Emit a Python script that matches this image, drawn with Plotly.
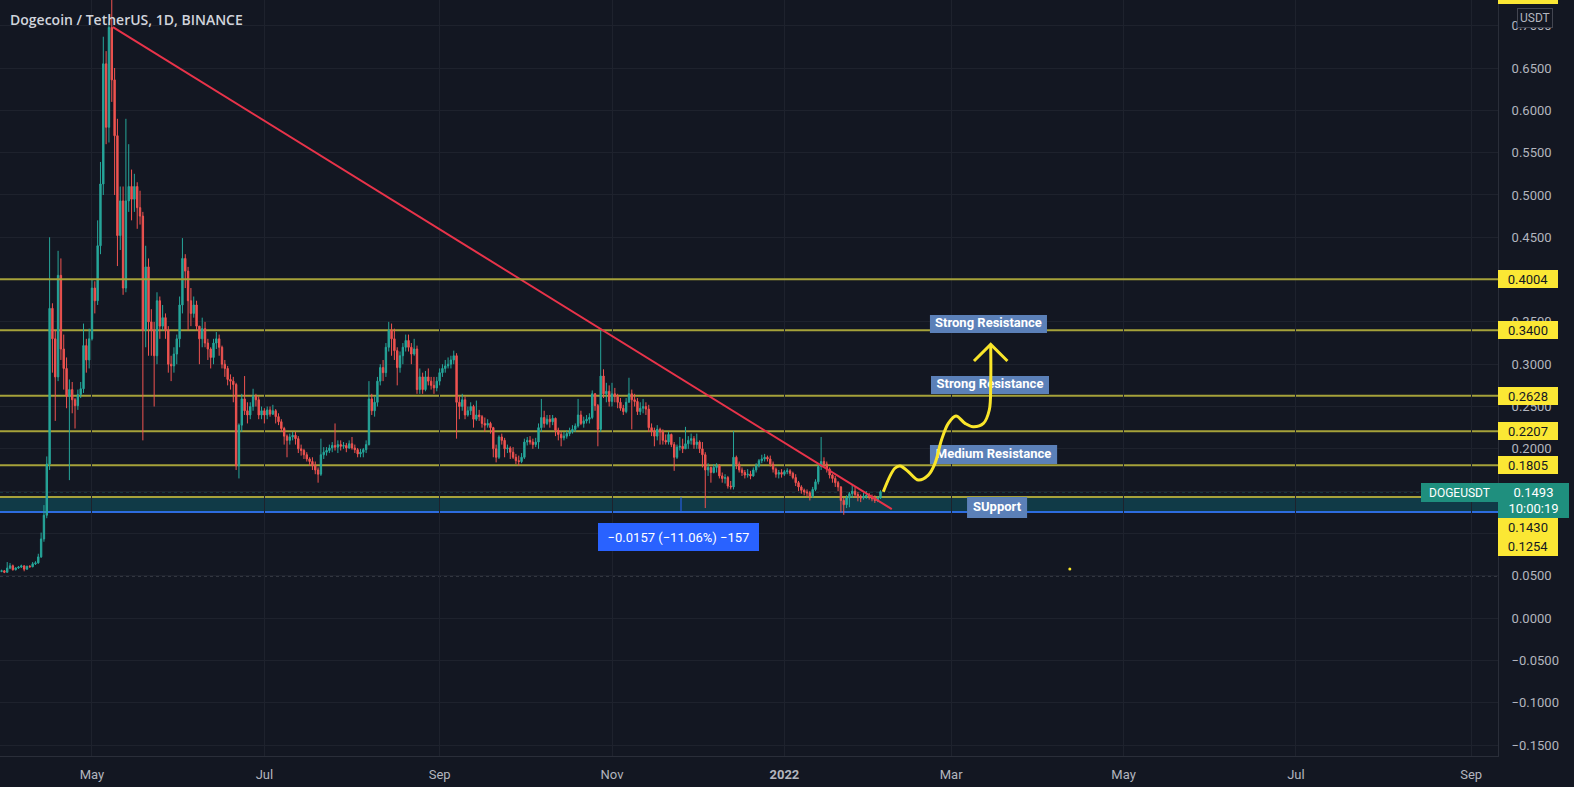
import pandas as pd
import plotly.graph_objects as go

# ---------------- data (DOGE/USDT daily) ----------------
start_date = "2021-03-29"
end_date = "2022-02-04"
first_open = 0.0540

closes = [
    # Mar 29-31
    .0552, .0558, .0541,
    # Apr
    .0590, .0618, .0572, .0592, .0603, .0617, .0578, .0611, .0606, .0641,
    .0652, .0723, .0935, .1215, .1820, .3660, .3300, .2850, .4050, .3180,
    .2950, .2620, .2700, .2580, .2510, .2640, .2710, .3220, .3050, .3300,
    # May
    .3900, .3750, .4400, .5130, .6550, .5800, .6980, .6360, .5700, .4520,
    .4930, .3900, .4930, .5100, .4950, .5100, .4850, .4750, .3400, .4150,
    .3500, .3400, .3100, .3750, .3450, .3550, .3400, .3000, .2980, .3120, .3300,
    # Jun
    .3700, .4250, .4100, .3750, .3600, .3700, .3450, .3300, .3420, .3250,
    .3180, .3080, .3250, .3300, .3200, .3000, .2950, .2820, .2800, .2760,
    .1800, .2280, .2590, .2450, .2400, .2500, .2620, .2580, .2400, .2450,
    # Jul
    .2400, .2460, .2410, .2450, .2380, .2320, .2240, .2150, .2100, .2140,
    .2160, .2120, .2000, .1980, .1930, .1880, .1850, .1800, .1750, .1700,
    .1930, .1960, .1980, .2010, .2040, .2020, .2050, .2030, .2040, .2010, .2060,
    # Aug
    .2010, .1990, .1940, .1960, .1990, .2050, .2590, .2450, .2550, .2800,
    .2960, .2900, .3200, .3400, .3300, .3160, .2960, .3100, .3200, .3280,
    .3200, .3120, .3180, .2700, .2850, .2700, .2850, .2800, .2750, .2720, .2800,
    # Sep
    .2900, .2950, .2980, .3000, .3050, .3100, .2550, .2500, .2580, .2400,
    .2450, .2500, .2350, .2400, .2380, .2300, .2280, .2300, .2250, .2000,
    .1900, .2140, .2100, .2000, .2010, .1960, .1900, .1860, .1850, .1900,
    # Oct
    .2080, .2100, .2080, .2050, .2080, .2250, .2370, .2300, .2350, .2320,
    .2360, .2220, .2170, .2130, .2150, .2180, .2200, .2230, .2270, .2400,
    .2300, .2330, .2350, .2370, .2650, .2510, .2230, .2860, .2650, .2680, .2560,
    # Nov
    .2650, .2620, .2550, .2480, .2440, .2550, .2650, .2580, .2560, .2440,
    .2480, .2500, .2470, .2250, .2210, .2150, .2230, .2200, .2100, .2080,
    .2170, .2050, .1900, .2020, .2030, .2000, .2060, .2100, .2120, .2050,
    # Dec
    .2080, .2000, .1930, .1750, .1780, .1720, .1780, .1800, .1680, .1650,
    .1660, .1560, .1550, .1900, .1820, .1750, .1720, .1690, .1700, .1680,
    .1750, .1800, .1860, .1880, .1900, .1880, .1820, .1760, .1700, .1720, .1700,
    # Jan 2022
    .1730, .1740, .1710, .1660, .1600, .1550, .1510, .1490, .1480, .1440,
    .1520, .1610, .1790, .1850, .1820, .1760, .1690, .1650, .1600, .1550,
    .1390, .1340, .1420, .1470, .1500, .1460, .1430, .1420, .1440, .1450, .1430,
    # Feb 1-4
    .1410, .1390, .1420, .1493,
]

highs = [
    .0565, .0572, .0566,
    .0662, .0650, .0632, .0601, .0616, .0631, .0622, .0620, .0626, .0662,
    .0672, .0760, .1010, .1335, .1910, .4500, .3720, .3400, .4340, .4250,
    .3350, .3080, .2820, .2790, .2600, .2700, .2790, .3480, .3300, .3420,
    .4000, .3980, .4700, .5390, .6870, .6700, .7050, .7376, .6500, .5900,
    .5100, .5100, .5900, .5600, .5300, .5250, .5150, .5050, .4800, .4400,
    .4250, .3650, .3500, .3850, .3800, .3700, .3600, .3450, .3100, .3200, .3350,
    .3800, .4490, .4300, .4150, .3900, .3800, .3750, .3450, .3550, .3500,
    .3300, .3200, .3300, .3380, .3350, .3220, .3050, .2980, .2880, .2850,
    .2780, .2300, .2650, .2860, .2550, .2550, .2710, .2650, .2620, .2500,
    .2480, .2500, .2500, .2520, .2470, .2420, .2350, .2260, .2170, .2180,
    .2200, .2200, .2150, .2050, .2000, .1960, .1900, .1900, .1850, .1780,
    .2120, .2020, .2020, .2050, .2080, .2300, .2100, .2100, .2080, .2070, .2100,
    .2140, .2050, .2010, .2000, .2010, .2100, .2800, .2650, .2620, .2850,
    .3000, .3050, .3250, .3500, .3480, .3420, .3200, .3150, .3250, .3350,
    .3350, .3250, .3300, .3220, .2950, .2900, .2920, .2950, .2850, .2850, .2850,
    .2950, .3000, .3050, .3080, .3100, .3160, .3130, .2620, .2650, .2620,
    .2500, .2550, .2520, .2570, .2460, .2400, .2370, .2350, .2320, .2260,
    .2050, .2160, .2180, .2130, .2050, .2030, .2020, .1940, .1920, .1950,
    .2120, .2140, .2150, .2120, .2130, .2300, .2590, .2450, .2400, .2400,
    .2400, .2370, .2250, .2200, .2200, .2220, .2250, .2280, .2300, .2590,
    .2450, .2380, .2400, .2420, .2690, .2660, .2530, .3400, .2940, .2780, .2750,
    .2780, .2720, .2650, .2600, .2520, .2600, .2840, .2700, .2650, .2600,
    .2550, .2590, .2550, .2520, .2300, .2250, .2280, .2250, .2230, .2170,
    .2200, .2180, .2080, .2050, .2140, .2120, .2260, .2150, .2180, .2150,
    .2180, .2100, .2080, .1960, .1830, .1790, .1820, .1830, .1820, .1720,
    .1700, .1680, .1620, .2210, .1920, .1850, .1780, .1750, .1760, .1740,
    .1780, .1830, .1880, .1930, .1940, .1920, .1920, .1850, .1780, .1750, .1760,
    .1750, .1770, .1760, .1730, .1700, .1620, .1570, .1530, .1520, .1500,
    .1550, .1640, .1830, .2140, .1900, .1850, .1780, .1700, .1680, .1620,
    .1560, .1420, .1450, .1490, .1580, .1550, .1490, .1460, .1480, .1500, .1480,
    .1460, .1450, .1440, .1510,
]

lows = [
    .0532, .0542, .0531,
    .0536, .0578, .0560, .0562, .0581, .0592, .0553, .0572, .0596, .0601,
    .0627, .0642, .0711, .0902, .1180, .1750, .2900, .2330, .2800, .3050,
    .2700, .2480, .1630, .2420, .2240, .2460, .2600, .2660, .2900, .2950,
    .3280, .3600, .3700, .4300, .5000, .5600, .5620, .6100, .5000, .4160,
    .4350, .3820, .3850, .4800, .4700, .4800, .4600, .4650, .2100, .3200,
    .3100, .3100, .2500, .3000, .3300, .3400, .3300, .2900, .2800, .2900, .3000,
    .3200, .3600, .3900, .3400, .3450, .3550, .3400, .3000, .3200, .3200,
    .3050, .2950, .3000, .3180, .3100, .2950, .2850, .2750, .2700, .2550,
    .1750, .1650, .2200, .2400, .2300, .2350, .2450, .2500, .2350, .2350,
    .2300, .2350, .2380, .2400, .2300, .2280, .2200, .2050, .1900, .2050,
    .2100, .2050, .1950, .1920, .1880, .1850, .1800, .1750, .1700, .1600,
    .1680, .1880, .1920, .1950, .1960, .1980, .1950, .1980, .2000, .1960, .2000,
    .1990, .1950, .1900, .1900, .1900, .1950, .2040, .2400, .2380, .2500,
    .2750, .2800, .2850, .3150, .3100, .3050, .2750, .2900, .3000, .3150,
    .3150, .3000, .3100, .2650, .2650, .2650, .2680, .2750, .2700, .2650, .2680,
    .2750, .2850, .2900, .2950, .2950, .3000, .2120, .2350, .2450, .2350,
    .2380, .2400, .2250, .2330, .2330, .2250, .2200, .2250, .2180, .1900,
    .1840, .1880, .2050, .1900, .1950, .1880, .1880, .1820, .1800, .1830,
    .1880, .2040, .2050, .2000, .2020, .2000, .2200, .2250, .2280, .2250,
    .2280, .2150, .2100, .2030, .2100, .2120, .2150, .2180, .2200, .2250,
    .2280, .2250, .2300, .2300, .2350, .2450, .2030, .2200, .2600, .2550, .2500,
    .2500, .2550, .2480, .2450, .2400, .2420, .2550, .2230, .2500, .2400,
    .2400, .2420, .2400, .2200, .2150, .2030, .2100, .2050, .2050, .2050,
    .2050, .2020, .1740, .1880, .1980, .1950, .2000, .2000, .2050, .2000,
    .2000, .1950, .1780, .1300, .1680, .1600, .1710, .1720, .1650, .1600,
    .1590, .1530, .1520, .1520, .1760, .1720, .1680, .1650, .1660, .1640,
    .1670, .1720, .1780, .1830, .1850, .1850, .1790, .1720, .1660, .1650, .1660,
    .1680, .1700, .1680, .1640, .1560, .1500, .1470, .1450, .1430, .1390,
    .1420, .1500, .1580, .1750, .1780, .1720, .1650, .1600, .1550, .1500,
    .1250, .1220, .1300, .1310, .1420, .1420, .1380, .1370, .1400, .1410, .1400,
    .1380, .1360, .1370, .1410,
]

# red descending trendline (date, price)
trend_dates = ["2021-05-08 10:00", "2022-02-08 00:00"]
trend_prices = [0.6984, 0.1287]

# drawn horizontal levels and labels
level_prices = [0.4004, 0.3400, 0.2628, 0.2207, 0.1805]
support_top, support_bottom = 0.1430, 0.1254
last_price = 0.1493
dotted_level = 0.0500
axis_labels = ["0.4004", "0.3400", "0.2628", "0.2207", "0.1805"]

# yellow projection path (date, price)
arrow_dates = ["2022-02-05 00:00", "2022-02-09 02:00", "2022-02-10 22:00", "2022-02-13 21:00",
               "2022-02-17 10:00", "2022-02-20 22:00", "2022-02-23 07:00", "2022-02-25 14:00",
               "2022-02-28 00:00", "2022-03-02 17:00", "2022-03-05 22:00", "2022-03-08 19:00",
               "2022-03-12 10:00", "2022-03-14 12:00", "2022-03-15 00:00", "2022-03-15 00:00"]
arrow_prices = [0.1493, 0.1770, 0.1797, 0.1729, 0.1631, 0.1690, 0.1829, 0.2104,
                0.2301, 0.2388, 0.2301, 0.2261, 0.2301, 0.2459, 0.2774, 0.3227]
head_dates = ["2022-03-09 02:00", "2022-03-15 00:00", "2022-03-20 22:00"]
head_prices = [0.3038, 0.3235, 0.3038]

# text boxes
box_texts = ["Strong Resistance", "Strong Resistance", "Medium Resistance", "SUpport"]
box_x0 = ["2022-02-21 12:00", "2022-02-21 21:00", "2022-02-21 12:00", "2022-03-06 15:00"]
box_x1 = ["2022-04-03 22:00", "2022-04-04 15:00", "2022-04-07 12:00", "2022-03-27 21:00"]
box_y0 = [0.3369, 0.2648, 0.1820, 0.1182]
box_y1 = [0.3582, 0.2861, 0.2045, 0.1430]

month_ticks = ["2021-05-01", "2021-07-01", "2021-09-01", "2021-11-01", "2022-01-01",
               "2022-03-01", "2022-05-01", "2022-07-01", "2022-09-01"]
month_labels = ["May", "Jul", "Sep", "Nov", "<b>2022</b>", "Mar", "May", "Jul", "Sep"]

# ---------------- styling ----------------
BG = "#131722"
GRID = "#1e222d"
AXLINE = "#2a2e39"
TXT = "#b2b5be"
UP = "#26a69a"
DOWN = "#ef5350"
LEVEL = "#a6a23a"
YEL = "#f9e52a"
LABEL_YEL = "#fbe734"
BOXBLUE = "#5b80b8"
TREND = "#e8334a"
FONT = "Roboto, Open Sans, sans-serif"

dates = pd.date_range(start_date, end_date, freq="D")
assert len(dates) == len(closes) == len(highs) == len(lows), (len(dates), len(closes), len(highs), len(lows))
opens = [first_open] + closes[:-1]

fig = go.Figure()
fig.add_trace(go.Candlestick(
    x=dates, open=opens, high=highs, low=lows, close=closes,
    increasing=dict(line=dict(color=UP, width=1), fillcolor=UP),
    decreasing=dict(line=dict(color=DOWN, width=1), fillcolor=DOWN),
    whiskerwidth=0, showlegend=False, hoverinfo="skip",
))
fig.add_trace(go.Scatter(x=trend_dates, y=trend_prices, mode="lines",
                         line=dict(color=TREND, width=2), showlegend=False, hoverinfo="skip"))

shapes = []
for p in level_prices:
    # the 0.4004 level sits on a grid line, so draw it on top
    lyr = "above" if p > 0.39 else "between"
    shapes.append(dict(type="line", xref="paper", x0=0, x1=1, yref="y", y0=p, y1=p,
                       line=dict(color=LEVEL, width=2), layer=lyr))
# support zone
shapes.append(dict(type="rect", xref="paper", x0=0, x1=1, yref="y", y0=support_bottom, y1=support_top,
                   fillcolor="#103a47", line=dict(width=0), layer="between"))
shapes.append(dict(type="line", xref="paper", x0=0, x1=1, yref="y", y0=support_top, y1=support_top,
                   line=dict(color=LEVEL, width=2), layer="between"))
shapes.append(dict(type="line", xref="paper", x0=0, x1=1, yref="y", y0=support_bottom, y1=support_bottom,
                   line=dict(color="#2d6cdf", width=2), layer="between"))
# price line + dotted level
shapes.append(dict(type="line", xref="paper", x0=0, x1=1, yref="y", y0=last_price, y1=last_price,
                   line=dict(color=UP, width=1, dash="dot"), layer="between"))
shapes.append(dict(type="line", xref="paper", x0=0, x1=1, yref="y", y0=dotted_level, y1=dotted_level,
                   line=dict(color="#8f929b", width=1, dash="dot"), layer="between"))
# measurement vertical tick
shapes.append(dict(type="line", xref="x", x0="2021-11-25 10:00", x1="2021-11-25 10:00", yref="y",
                   y0=0.1262, y1=support_top, line=dict(color="#2962ff", width=1), layer="between"))
# text boxes
for x0, x1, y0, y1 in zip(box_x0, box_x1, box_y0, box_y1):
    shapes.append(dict(type="rect", xref="x", yref="y", x0=x0, x1=x1, y0=y0, y1=y1,
                       fillcolor=BOXBLUE, line=dict(width=0), layer="between"))

# box texts (midpoints of boxes)
mid_x = [pd.Timestamp(a) + (pd.Timestamp(b) - pd.Timestamp(a)) / 2 for a, b in zip(box_x0, box_x1)]
mid_y = [(a + b) / 2 for a, b in zip(box_y0, box_y1)]
fig.add_trace(go.Scatter(x=mid_x, y=mid_y, mode="text", text=box_texts,
                         textfont=dict(color="white", size=13, family=FONT, weight="bold"),
                         showlegend=False, hoverinfo="skip"))

# yellow projection
fig.add_trace(go.Scatter(x=arrow_dates, y=arrow_prices, mode="lines",
                         line=dict(color=YEL, width=3, shape="spline", smoothing=1.0),
                         showlegend=False, hoverinfo="skip"))
fig.add_trace(go.Scatter(x=head_dates, y=head_prices, mode="lines",
                         line=dict(color=YEL, width=3), showlegend=False, hoverinfo="skip"))
fig.add_trace(go.Scatter(x=["2022-04-12"], y=[0.058], mode="markers",
                         marker=dict(color=YEL, size=3), showlegend=False, hoverinfo="skip"))

annotations = []
# title
annotations.append(dict(xref="paper", yref="paper", x=0, y=1, xanchor="left", yanchor="top",
                        xshift=8, yshift=-8, showarrow=False,
                        text="Dogecoin / TetherUS, 1D, BINANCE",
                        font=dict(family="Open Sans, sans-serif", size=14, color="#d1d4dc", weight=600)))
# axis price labels
for p, t in zip(level_prices, axis_labels):
    annotations.append(dict(xref="paper", yref="y", x=1, y=p, xanchor="left", yanchor="middle",
                            text=t, showarrow=False, bgcolor=LABEL_YEL, borderwidth=0, borderpad=2,
                            width=56, height=14, align="center",
                            font=dict(family=FONT, size=13, color=BG)))
annotations.append(dict(xref="paper", yref="y", x=1, y=support_top, xanchor="left", yanchor="middle",
                        yshift=-30.5, text="0.1430", showarrow=False, bgcolor=LABEL_YEL, borderwidth=0,
                        borderpad=2, width=56, height=15, font=dict(family=FONT, size=13, color=BG)))
annotations.append(dict(xref="paper", yref="y", x=1, y=support_bottom, xanchor="left", yanchor="middle",
                        yshift=-34.6, text="0.1254", showarrow=False, bgcolor=LABEL_YEL, borderwidth=0,
                        borderpad=2, width=56, height=15, font=dict(family=FONT, size=13, color=BG)))
# top (cropped) high label
annotations.append(dict(xref="paper", yref="paper", x=1, y=1, xanchor="left", yanchor="bottom",
                        yshift=-4, text="0.7376", showarrow=False, bgcolor=LABEL_YEL, borderwidth=0,
                        borderpad=2, width=56, height=14, font=dict(family=FONT, size=13, color=BG)))
# USDT
annotations.append(dict(xref="paper", yref="paper", x=1, y=1, xanchor="left", yanchor="top",
                        xshift=19, yshift=-8, text="USDT", showarrow=False, bgcolor=BG,
                        bordercolor="#434651", borderwidth=1, borderpad=2,
                        font=dict(family=FONT, size=12, color=TXT)))
# current price labels
annotations.append(dict(xref="paper", yref="y", x=1, y=last_price, xanchor="right", yanchor="top",
                        yshift=9, text="DOGEUSDT", showarrow=False, bgcolor="#1f8f7e", borderwidth=0,
                        borderpad=2, width=73, height=15, font=dict(family=FONT, size=12, color="white")))
annotations.append(dict(xref="paper", yref="y", x=1, y=last_price, xanchor="left", yanchor="top",
                        yshift=9, text="0.1493<br>10:00:19", showarrow=False, bgcolor="#1f8f7e",
                        borderwidth=0, borderpad=2, width=67, height=31,
                        font=dict(family=FONT, size=13, color="white")))
# measurement label
annotations.append(dict(xref="x", yref="y", x="2021-11-24 12:00", y=0.0957, text="−0.0157 (−11.06%) −157",
                        showarrow=False, bgcolor="#2962ff", borderwidth=0, borderpad=6, width=149, height=16,
                        font=dict(family=FONT, size=13, color="white")))

fig.update_layout(
    width=1574, height=787,
    margin=dict(l=0, r=76, t=0, b=31),
    paper_bgcolor=BG, plot_bgcolor=BG,
    shapes=shapes, annotations=annotations,
    showlegend=False, hovermode=False, dragmode=False,
    xaxis=dict(type="date", range=["2021-03-29 10:48", "2022-09-10 12:00"],
               tickvals=month_ticks, ticktext=month_labels,
               showgrid=True, gridcolor=GRID, gridwidth=1, zeroline=False,
               showline=True, linecolor=AXLINE, linewidth=1, ticks="",
               tickfont=dict(family=FONT, size=13, color=TXT),
               rangeslider=dict(visible=False), fixedrange=True, ticklabelstandoff=6),
    yaxis=dict(side="right", range=[-0.1630, 0.7304], dtick=0.05, tick0=0, tickformat=".4f",
               showgrid=True, gridcolor=GRID, gridwidth=1, zeroline=False,
               showline=True, linecolor=AXLINE, linewidth=1, ticks="",
               tickfont=dict(family=FONT, size=13, color=TXT), fixedrange=True,
               ticklabelstandoff=10),
)

fig.write_html("out.html", config={"displayModeBar": False, "staticPlot": True})
